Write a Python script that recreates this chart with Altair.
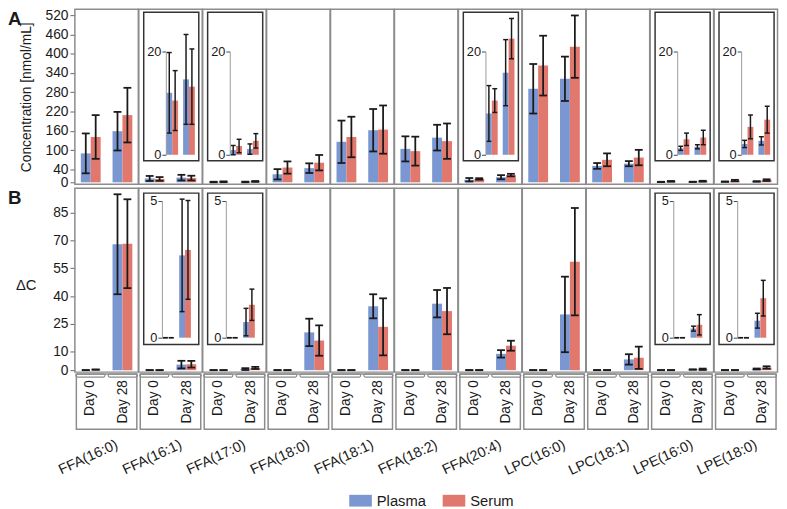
import altair as alt
import pandas as pd

categories = ["FFA(16:0)", "FFA(16:1)", "FFA(17:0)", "FFA(18:0)", "FFA(18:1)", "FFA(18:2)",
              "FFA(20:4)", "LPC(16:0)", "LPC(18:1)", "LPE(16:0)", "LPE(18:0)"]
days = ["Day 0", "Day 28"]
series = ["Plasma", "Serum"]

# Panel A: concentration [nmol/mL], mean and SD
conc_plasma_day0 = [90, 12.0, 0.9, 25, 126, 104, 8.0, 291, 51, 1.25, 2.1]
conc_plasma_day0_sd = [62, 7.8, 0.9, 16, 66, 39, 5.4, 77, 9, 0.4, 0.7]
conc_serum_day0 = [141, 10.5, 1.7, 46, 141, 97, 10.5, 363, 70, 3.0, 5.4]
conc_serum_day0_sd = [68, 5.8, 1.3, 19, 63, 45, 2.3, 93, 20, 1.2, 2.3]
conc_plasma_day28 = [159, 14.6, 1.1, 44, 162, 139, 15.9, 322, 58, 1.55, 2.7]
conc_plasma_day28_sd = [60, 8.7, 1.0, 15, 66, 40, 6.4, 69, 8, 0.4, 0.8]
conc_serum_day28 = [209, 13.2, 2.7, 61, 164, 128, 22.5, 422, 77, 3.35, 6.8]
conc_serum_day28_sd = [85, 7.3, 1.4, 24, 75, 55, 3.9, 97, 24, 1.4, 2.6]

# Panel B: delta C, mean and SD
dc_plasma_day0 = [0, 0, 0, 0, 0, 0, 0, 0, 0, 0, 0]
dc_plasma_day0_sd = [0, 0, 0, 0, 0, 0, 0, 0, 0, 0, 0]
dc_serum_day0 = [0.3, 0, 0, 0, 0, 0, 0, 0, 0, 0, 0]
dc_serum_day0_sd = [0, 0, 0, 0, 0, 0, 0, 0, 0, 0, 0]
dc_plasma_day28 = [68, 3.0, 0.57, 20.4, 34.5, 35.9, 8.8, 30.1, 5.8, 0.33, 0.62]
dc_plasma_day28_sd = [27, 2.05, 0.5, 7.4, 6.5, 7.4, 2.0, 20.4, 2.8, 0.09, 0.27]
dc_serum_day28 = [68.3, 3.2, 1.2, 16, 23.4, 31.9, 13.2, 58.6, 6.7, 0.47, 1.44]
dc_serum_day28_sd = [24, 1.8, 0.57, 8.2, 15.4, 12.5, 2.7, 29, 6, 0.37, 0.65]

# zoomed insets
inset_a_categories = ["FFA(16:1)", "FFA(17:0)", "FFA(20:4)", "LPE(16:0)", "LPE(18:0)"]
inset_b_categories = ["FFA(16:1)", "FFA(17:0)", "LPE(16:0)", "LPE(18:0)"]
inset_a_ticks = [0, 20]
inset_b_ticks = [0, 5]
axis_a_ticks = [0, 40, 100, 160, 220, 280, 340, 400, 460, 520]
axis_b_ticks = [0, 10, 25, 40, 55, 70, 85]

BLUE = "#7b97d2"
RED = "#e0786d"
GRID = "#8c8c8c"
INK = "#1a1a1a"
BOX = "#333333"
FONT = "Liberation Sans"
PW = 64.5
HA = 178          # height of panel A
GAP = 4
B0 = HA + GAP     # top of panel B
HB = 187
H = B0 + HB       # total plotted height of a column


def long_table(spec):
    rows = []
    for i, c in enumerate(categories):
        for d in days:
            for s in series:
                m, sd = spec[(d, s)]
                rows.append(dict(category=c, day=d, series=s, mean=m[i],
                                 lo=max(m[i] - sd[i], 0), hi=m[i] + sd[i]))
    return pd.DataFrame(rows)


tab_a = long_table({
    ("Day 0", "Plasma"): (conc_plasma_day0, conc_plasma_day0_sd),
    ("Day 0", "Serum"): (conc_serum_day0, conc_serum_day0_sd),
    ("Day 28", "Plasma"): (conc_plasma_day28, conc_plasma_day28_sd),
    ("Day 28", "Serum"): (conc_serum_day28, conc_serum_day28_sd),
})
tab_b = long_table({
    ("Day 0", "Plasma"): (dc_plasma_day0, dc_plasma_day0_sd),
    ("Day 0", "Serum"): (dc_serum_day0, dc_serum_day0_sd),
    ("Day 28", "Plasma"): (dc_plasma_day28, dc_plasma_day28_sd),
    ("Day 28", "Serum"): (dc_serum_day28, dc_serum_day28_sd),
})

LEGEND = alt.Legend(title=None, orient="none", legendX=279, legendY=488, direction="horizontal",
                    symbolType="M-1,-0.52H1V0.52H-1Z", symbolSize=529, symbolStrokeWidth=0,
                    symbolOpacity=1, labelFontSize=15, labelColor=INK, columnPadding=16,
                    labelOffset=5)
COLOR = alt.Color("series:N", sort=series, scale=alt.Scale(domain=series, range=[BLUE, RED]),
                  legend=LEGEND)


def bar_group(df, xscale, yscale, yaxis, cap_w, lw):
    base = alt.Chart(df)
    x = alt.X("day:N", sort=days, scale=xscale, axis=None)
    xo = alt.XOffset("series:N", sort=series, scale=alt.Scale(domain=series))
    bars = base.mark_bar().encode(x=x, xOffset=xo,
                                  y=alt.Y("mean:Q", scale=yscale, axis=yaxis), color=COLOR)
    rules = base.mark_rule(color=INK, strokeWidth=lw).encode(
        x=x, xOffset=xo, y=alt.Y("lo:Q", scale=yscale, axis=yaxis), y2="hi:Q")
    cap_hi = base.mark_tick(color=INK, thickness=lw, size=cap_w, opacity=1).encode(
        x=x, xOffset=xo, y=alt.Y("hi:Q", scale=yscale, axis=yaxis))
    cap_lo = base.mark_tick(color=INK, thickness=lw, size=cap_w, opacity=1).encode(
        x=x, xOffset=xo, y=alt.Y("lo:Q", scale=yscale, axis=yaxis))
    return alt.layer(bars, rules, cap_hi, cap_lo)


def main_xscale():
    return alt.Scale(domain=days, paddingInner=0.375, paddingOuter=0.1875)


def inset_axis(xr, vals):
    return alt.Axis(orient="left", offset=-xr[0], values=vals, title=None, grid=False,
                    domain=True, domainColor="#9a9a9a", domainWidth=1, ticks=True,
                    tickColor="#444444", tickSize=4, labelFontSize=13, labelColor=INK,
                    labelPadding=1, labelOverlap=False, zindex=2)


def inset_group(df, dom, vals, yr, xr, box_y):
    box = alt.Chart(pd.DataFrame({"b": [1]})).mark_rect(
        fill="white", stroke=BOX, strokeWidth=1.5
    ).encode(x=alt.value(5), x2=alt.value(61), y=alt.value(box_y[0]), y2=alt.value(box_y[1]))
    iy = alt.Scale(domain=dom, range=yr, nice=False, zero=False)
    ix = alt.Scale(domain=days, range=xr, paddingInner=0.3, paddingOuter=0.03)
    return alt.layer(box, bar_group(df, ix, iy, inset_axis(xr, vals), 5, 1.5))


axis_a = alt.Axis(orient="left", values=axis_a_ticks, title="Concentration [nmol/mL]", grid=False,
                  domain=False, tickColor="#666666", tickSize=5, labelFontSize=14, labelColor=INK,
                  labelPadding=2, labelOverlap=False, titleFontSize=14, titleFontWeight="normal",
                  titleColor=INK, titleAngle=270, titleX=-49, titleY=HA / 2, titleAlign="center",
                  titleBaseline="middle")
axis_b = alt.Axis(orient="left", values=axis_b_ticks, title="ΔC", grid=False, domain=False,
                  tickColor="#666666", tickSize=5, labelFontSize=14, labelColor=INK,
                  labelPadding=2, labelOverlap=False, titleFontSize=15, titleFontWeight="normal",
                  titleColor=INK, titleAngle=0, titleX=-50, titleY=B0 + 98, titleAlign="center",
                  titleBaseline="middle")

frame_df = pd.DataFrame({"panel": ["A", "B"], "top": [0, B0], "bottom": [HA, H]})


def column(i, c):
    layers = []
    # panel frames (and the panel letters on the first column)
    fy = alt.Scale(domain=[0, H], range=[0, H])
    frames = alt.Chart(frame_df).mark_rect(fillOpacity=0, stroke=GRID, strokeWidth=1.5).encode(
        x=alt.value(0), x2=alt.value(PW),
        y=alt.Y("top:Q", scale=fy, axis=None), y2="bottom:Q")
    frame_layers = [frames]
    if i == 0:
        letters = alt.Chart(frame_df).mark_text(
            align="left", baseline="top", fontSize=19, fontWeight="bold", color=INK, dy=1
        ).encode(text="panel:N", x=alt.value(-68), y=alt.Y("top:Q", scale=fy, axis=None))
        frame_layers.append(letters)
    layers.append(alt.layer(*frame_layers))

    dfa = tab_a[tab_a["category"] == c]
    dfb = tab_b[tab_b["category"] == c]
    ka = (HA - 8) / 520.0
    kb = (HB - 27) / 85.0
    ya = alt.Scale(domain=[-2 / ka, 520 + 6 / ka], range=[HA, 0], nice=False, zero=False)
    yb = alt.Scale(domain=[-2 / kb, (HB - 2) / kb], range=[H, B0], nice=False, zero=False)
    layers.append(bar_group(dfa, main_xscale(), ya, axis_a if i == 0 else None, 8, 1.8))
    layers.append(bar_group(dfb, main_xscale(), yb, axis_b if i == 0 else None, 8, 1.8))
    if c in inset_a_categories:
        layers.append(inset_group(dfa, [0, 20], inset_a_ticks, [148, 43], [27.5, 57.5], (3, 154)))
    if c in inset_b_categories:
        layers.append(inset_group(dfb, [0, 5], inset_b_ticks, [B0 + 152, B0 + 12.5],
                                  [23.5, 53.5], (B0 + 5, B0 + 159)))

    # category and day labels under the panels
    lab = pd.DataFrame({"category": [c, c], "day": days})
    lx = alt.X("day:N", sort=days, scale=alt.Scale(domain=days, paddingInner=0.1, paddingOuter=0.03),
               axis=None)
    cat_box = alt.Chart(lab.head(1)).mark_rect(fillOpacity=0, stroke=GRID, strokeWidth=1.5).encode(
        x=alt.value(1.5), x2=alt.value(PW - 1.5), y=alt.value(H + 2), y2=alt.value(H + 58))
    brackets = alt.Chart(lab).mark_rect(fillOpacity=0, stroke=GRID, strokeWidth=1.2,
                                        cornerRadius=1.5).encode(
        x=lx, y=alt.value(H + 2), y2=alt.value(H + 5))
    day_text = alt.Chart(lab).mark_text(angle=270, align="right", baseline="middle", fontSize=14,
                                        color=INK).encode(x=lx, y=alt.value(H + 8), text="day:N")
    cat_text = alt.Chart(lab.head(1)).mark_text(angle=335, align="right", baseline="top",
                                                fontSize=14.5, color=INK).encode(
        x=alt.value(PW * 0.62), y=alt.value(H + 67), text="category:N")
    layers.append(alt.layer(cat_box, brackets, day_text, cat_text))

    return alt.layer(*layers).resolve_scale(
        x="independent", y="independent", xOffset="independent"
    ).properties(width=PW, height=H)


chart = alt.hconcat(*[column(i, c) for i, c in enumerate(categories)], spacing=0,
                    bounds="flush").properties(
    padding={"top": -4, "left": 0, "right": 0, "bottom": 0}
).configure(font=FONT).configure_view(strokeWidth=0, strokeOpacity=0)

chart.save("out.html", embed_options={"renderer": "svg", "actions": False})
